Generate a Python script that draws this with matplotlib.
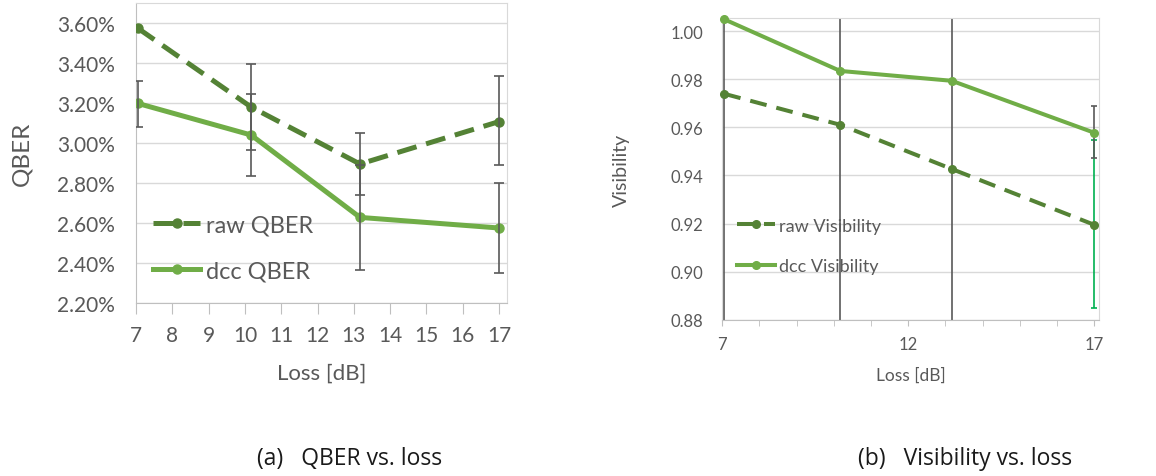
import numpy as np
import matplotlib
matplotlib.use("Agg")
import matplotlib.pyplot as plt
from matplotlib.ticker import FuncFormatter, MultipleLocator

plt.rcParams['font.family'] = ['Lato', 'DejaVu Sans']

# data
loss_db = [7.05, 10.17, 13.17, 17.0]

# (a) QBER in %
raw_qber = [3.574, 3.18, 2.895, 3.107]
raw_qber_lo = [3.574, 2.967, 2.74, 2.89]
raw_qber_hi = [3.574, 3.395, 3.05, 3.333]
dcc_qber = [3.198, 3.04, 2.628, 2.575]
dcc_qber_lo = [3.08, 2.833, 2.365, 2.35]
dcc_qber_hi = [3.311, 3.245, 2.89, 2.80]

# (b) visibility
raw_vis = [0.974, 0.9611, 0.9427, 0.9195]
dcc_vis = [1.005, 0.9835, 0.9794, 0.9578]
big_err_lo = [0.86, 0.86, 0.86]      # bars running off the plot at the first 3 points
big_err_hi = [1.02, 1.02, 1.02]
dcc_vis_lo_last = 0.9472
dcc_vis_hi_last = 0.9688
raw_vis_lo_last = 0.8848
raw_vis_hi_last = 0.9546

c_raw = '#548235'
c_dcc = '#70AD47'
c_err = '#595959'
c_grid = '#D9D9D9'
c_text = '#595959'

fig = plt.figure(figsize=(11.56, 4.77), dpi=100)

# ---------- (a) QBER ----------
ax1 = fig.add_axes([136/1156, (477-304)/477, 371/1156, 300/477])
x = np.array(loss_db)
rv = np.array(raw_qber); dv = np.array(dcc_qber)
ax1.plot(x, rv, color=c_raw, lw=3.6, dashes=(4, 2), marker='o', ms=6.5, label='raw QBER', zorder=3)
ax1.plot(x, dv, color=c_dcc, lw=3.6, marker='o', ms=6.5, label='dcc QBER', zorder=3)
ax1.errorbar(x[1:], rv[1:], yerr=[rv[1:] - np.array(raw_qber_lo[1:]), np.array(raw_qber_hi[1:]) - rv[1:]],
             fmt='none', ecolor=c_err, elinewidth=1.2, capsize=3.5, capthick=1.2, zorder=4)
ax1.errorbar(x, dv, yerr=[dv - np.array(dcc_qber_lo), np.array(dcc_qber_hi) - dv],
             fmt='none', ecolor=c_err, elinewidth=1.2, capsize=3.5, capthick=1.2, zorder=4)

ax1.set_xlim(7, 17.22)
ax1.set_ylim(2.2, 3.7)
ax1.set_xticks(range(7, 18))
ax1.yaxis.set_major_locator(MultipleLocator(0.2))
ax1.yaxis.set_major_formatter(FuncFormatter(lambda v, p: '%.2f%%' % v))
ax1.grid(axis='y', color=c_grid, lw=1)
ax1.set_axisbelow(True)
for s in ax1.spines.values():
    s.set_color(c_grid)
ax1.spines['left'].set_color('#BFBFBF')
ax1.spines['bottom'].set_color('#BFBFBF')
ax1.tick_params(axis='x', length=8, color='#BFBFBF', labelsize=15, labelcolor=c_text, pad=8)
ax1.tick_params(axis='y', length=0, labelsize=15, labelcolor=c_text, pad=15)
ax1.set_xlabel('Loss [dB]', fontsize=16, color=c_text)
ax1.xaxis.set_label_coords(0.5, -0.2)
ax1.set_ylabel('QBER', fontsize=17.5, color=c_text)
ax1.yaxis.set_label_coords(-0.28, 0.5)
ax1.legend(loc='center left', bbox_to_anchor=(0.046, 0.183), frameon=False, fontsize=17,
           labelcolor=c_text, handlelength=2.0, handletextpad=0.25, labelspacing=1.05,
           borderpad=0, borderaxespad=0)

# ---------- (b) Visibility ----------
ax2 = fig.add_axes([722.3/1156, (477-320.7)/477, 376.7/1156, 301.4/477])
rv2 = np.array(raw_vis); dv2 = np.array(dcc_vis)
ax2.errorbar(x[:3], rv2[:3], yerr=[rv2[:3] - np.array(big_err_lo), np.array(big_err_hi) - rv2[:3]],
             fmt='none', ecolor=c_err, elinewidth=1.2, zorder=2)
ax2.errorbar([x[3]], [rv2[3]], yerr=[[rv2[3] - raw_vis_lo_last], [raw_vis_hi_last - rv2[3]]],
             fmt='none', ecolor='#00B050', elinewidth=1.2, capsize=2.5, capthick=1.2, zorder=2)
ax2.errorbar([x[3]], [dv2[3]], yerr=[[dv2[3] - dcc_vis_lo_last], [dcc_vis_hi_last - dv2[3]]],
             fmt='none', ecolor=c_err, elinewidth=1.2, capsize=2.5, capthick=1.2, zorder=2)
ax2.plot(x, rv2, color=c_raw, lw=2.9, dashes=(4.2, 2.5), marker='o', ms=5.5, label='raw Visibility',
         zorder=3, clip_on=False)
ax2.plot(x, dv2, color=c_dcc, lw=2.9, marker='o', ms=5.5, label='dcc Visibility', zorder=3, clip_on=False)

ax2.set_xlim(7, 17.13)
ax2.set_ylim(0.88, 1.0054)
ax2.set_xticks([7, 12, 17])
ax2.set_xticks(range(7, 18), minor=True)
ax2.yaxis.set_major_locator(MultipleLocator(0.02))
ax2.yaxis.set_major_formatter(FuncFormatter(lambda v, p: '%.2f' % v))
ax2.grid(axis='y', color=c_grid, lw=1)
ax2.set_axisbelow(True)
for s in ax2.spines.values():
    s.set_color(c_grid)
ax2.spines['bottom'].set_color('#BFBFBF')
ax2.tick_params(axis='x', which='both', length=4, color='#BFBFBF', labelsize=12, labelcolor=c_text, pad=8)
ax2.tick_params(axis='y', length=0, labelsize=12, labelcolor=c_text, pad=14)
ax2.set_xlabel('Loss [dB]', fontsize=12.5, color=c_text)
ax2.xaxis.set_label_coords(0.5, -0.155)
ax2.set_ylabel('Visibility', fontsize=14, color=c_text)
ax2.yaxis.set_label_coords(-0.245, 0.5)
ax2.legend(loc='center left', bbox_to_anchor=((737-722.3)/376.7, (320.7-247)/301.4), frameon=False,
           fontsize=13, labelcolor=c_text, handlelength=2.1, handletextpad=0.25, labelspacing=1.35,
           borderpad=0, borderaxespad=0)

# captions
fig.text(257/1156, 1 - 459/477, '(a)   QBER vs. loss', fontsize=16.5, color='#1a1a1a', ha='left', va='center',
         family=['Open Sans', 'DejaVu Sans'])
fig.text(858/1156, 1 - 459/477, '(b)   Visibility vs. loss', fontsize=16.5, color='#1a1a1a', ha='left', va='center',
         family=['Open Sans', 'DejaVu Sans'])

fig.savefig('out.png', dpi=100, facecolor='white')
